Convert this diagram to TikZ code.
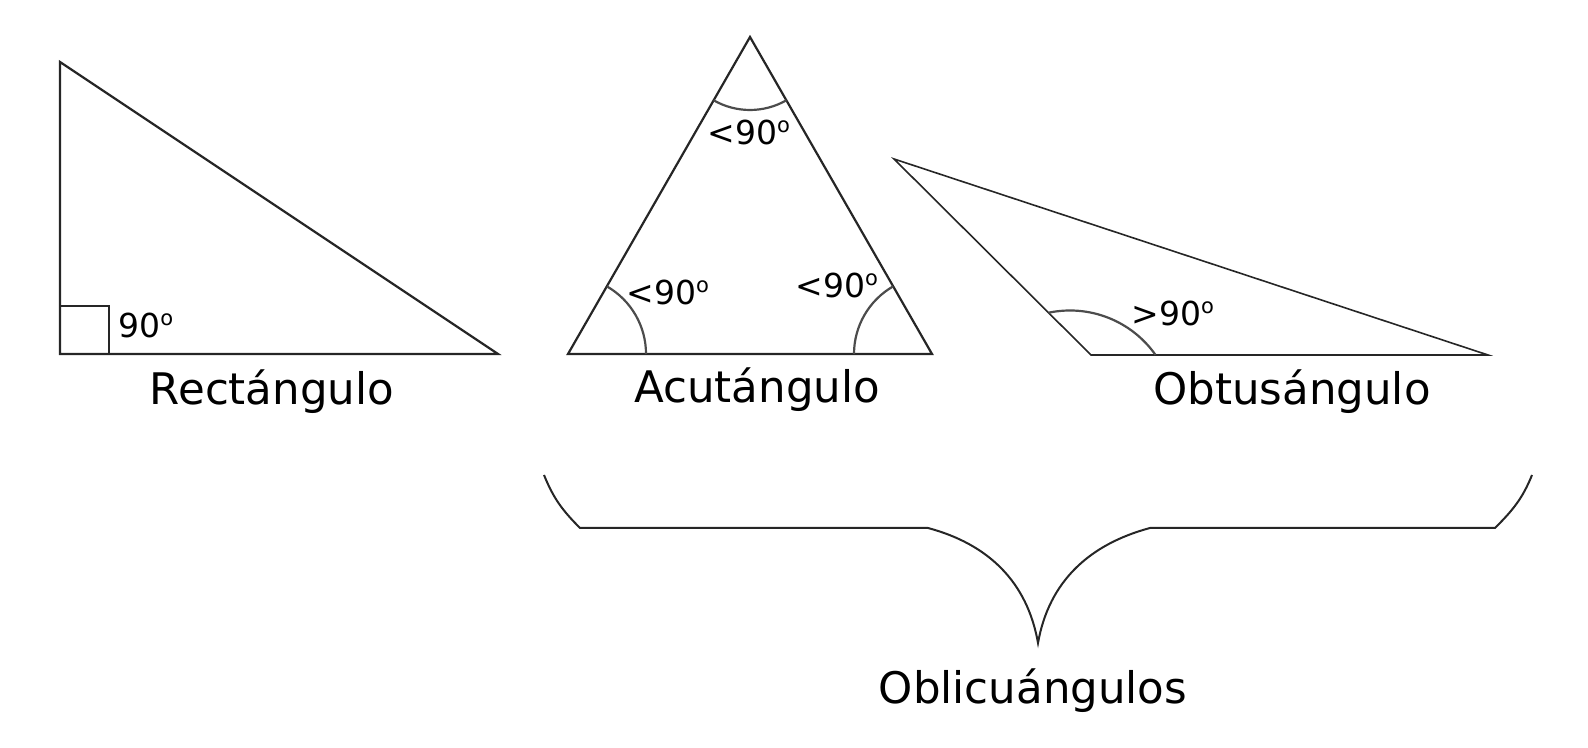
\documentclass[tikz,border=0pt]{standalone}
\usepackage{fontspec}
\setmainfont{DejaVu Sans}
\usetikzlibrary{calc}
\newcommand\ordo{\raisebox{6.3pt}{\fontsize{10.5pt}{10.5pt}\selectfont o}}
\begin{document}
\begin{tikzpicture}[x=0.5pt,y=0.5pt,
  edge/.style={line width=1.1pt,draw=black!85},
  thinedge/.style={line width=0.8pt,draw=black!85},
  anglearc/.style={line width=1.1pt,draw=black!70},
  big/.style={inner sep=0pt,anchor=base,font=\fontsize{21.75pt}{26pt}\selectfont},
  small/.style={inner sep=0pt,anchor=base west,font=\fontsize{16.5pt}{20pt}\selectfont}]
\useasboundingbox (0,0) rectangle (1588,748);
% right triangle
\coordinate (R1) at (60,686);
\coordinate (R2) at (60,394);
\coordinate (R3) at (498,394);
\draw[edge,line join=miter] (R1) -- (R2) -- (R3) -- cycle;
\draw[edge] (109,394) |- (60,442);
\node[small] (r90) at (118,410) {90\ordo};
\node[big] (rect) at (272,343) {Rectángulo};
% acute triangle
\coordinate (A1) at (750,711);
\coordinate (A2) at (568,394);
\coordinate (A3) at (932,394);
\draw[edge] (A1) -- (A2) -- (A3) -- cycle;
\draw[anglearc] ($(A1)+(240.1:73)$) arc[start angle=240.1,end angle=299.9,radius=73];
\draw[anglearc] ($(A2)+(0:78)$) arc[start angle=0,end angle=60.1,radius=78];
\draw[anglearc] ($(A3)+(119.9:78)$) arc[start angle=119.9,end angle=180,radius=78];
\node[small] (a1) at (707,603) {<90\ordo};
\node[small] (a2) at (626,443) {<90\ordo};
\node[small] (a3) at (795,450) {<90\ordo};
\node[big] (acut) at (757,345) {Acutángulo};
% obtuse triangle
\coordinate (O1) at (894,589);
\coordinate (O2) at (1091,393);
\coordinate (O3) at (1488,393);
\coordinate (Oc) at (1070,333);
\draw[thinedge] (O1) -- (O2) -- (O3) -- cycle;
\draw[anglearc] ($(Oc)+(35.2:104.5)$) arc[start angle=35.2,end angle=101.9,radius=104.5];
\node[small] (o1) at (1131,422) {>90\ordo};
\node[big] (obtu) at (1292,343) {Obtusángulo};
% brace
\coordinate (b1) at (544,273);
\coordinate (b2) at (580,220);
\coordinate (b3) at (928,220);
\coordinate (tip) at (1038,105);
\coordinate (b4) at (1150,220);
\coordinate (b5) at (1495,220);
\coordinate (b6) at (1532,273);
\draw[thinedge,line width=1pt] (b1) to[out=-68,in=135] (b2) -- (b3)
  to[out=-15,in=100] (tip) to[out=80,in=195] (b4) -- (b5) to[out=45,in=-112] (b6);
\node[big] (obli) at (1033,44) {Oblicuángulos};
\end{tikzpicture}
\end{document}
